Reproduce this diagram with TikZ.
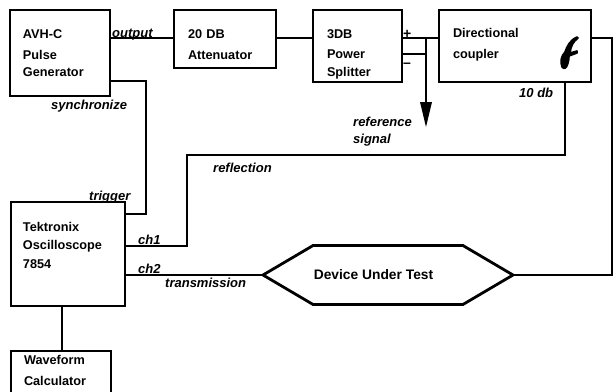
\documentclass[tikz,border=0pt]{standalone}
\usepackage{fontspec}
\setmainfont{Liberation Sans}
\usetikzlibrary{shapes.symbols,arrows.meta,calc}
\newcommand{\lines}[2]{\raisebox{#1}[0pt][0pt]{\begin{tabular}[t]{@{}l@{}}#2\end{tabular}}}
\tikzset{
  blockbox/.style={draw=black,fill=white,line width=2.8pt,inner sep=0pt,outer sep=0pt,text width=#1,align=left,font=\fontsize{12.7}{19}\selectfont\bfseries},
  wire/.style={line width=2.8pt,draw=black,line join=miter},
  tag/.style={anchor=base west,inner sep=0pt,font=\fontsize{13}{14}\selectfont\bfseries\itshape},
  sign/.style={anchor=base west,inner sep=0pt,font=\fontsize{14}{14}\selectfont\bfseries},
}
\begin{document}
\begin{tikzpicture}[x=1pt,y=-1pt]
\useasboundingbox (0,0) rectangle (613,391);
\node[blockbox=74pt,minimum width=100pt,minimum height=86pt] (avh) at (60,53) {\lines{15pt}{AVH-C\\[2pt]Pulse\\[-2pt]Generator}};
\node[blockbox=74pt,minimum width=102pt,minimum height=58pt] (att) at (225,39) {\lines{1pt}{20 DB\\[2pt]Attenuator}};
\node[blockbox=61pt,minimum width=89pt,minimum height=72pt] (spl) at (357.5,46) {\lines{8pt}{3DB\\[1pt]Power\\[-1pt]Splitter}};
\node[blockbox=124pt,minimum width=152pt,minimum height=72pt] (cpl) at (515,46) {\lines{9pt}{Directional\\[2pt]coupler}};
\node[blockbox=90pt,minimum width=114pt,minimum height=104pt] (osc) at (68,254) {\lines{23pt}{Tektronix\\[-1pt]Oscilloscope\\7854}};
\begin{scope}
\clip (0,0) rectangle (613,391);
\node[blockbox=74pt,minimum width=100pt,minimum height=60pt] (wav) at (61,381) {\lines{17pt}{Waveform\\[2pt]Calculator}};
\end{scope}
\node[signal,signal to=west and east,signal pointer angle=61,draw=black,fill=white,line width=2.8pt,inner sep=0pt,outer sep=0pt,minimum width=250pt,minimum height=59pt,font=\fontsize{13.8}{16}\selectfont\bfseries] (dut) at (388,275) {\hspace*{-29pt}\raisebox{-4pt}{Device Under Test}};
% connectors
\draw[wire] (avh.east |- 0,38) -- (att.west |- 0,38);
\draw[wire] (att.east |- 0,38) -- (spl.west |- 0,38);
\draw[wire] (spl.east |- 0,38) -- (cpl.west |- 0,38);
\coordinate (tap) at (426,38);
\coordinate (tip) at (426,127);
\draw[wire] (spl.east |- 0,54) -- (tap |- 0,54);
\draw[wire] (tap) -- (426,104);
\fill[black] (420,102) -- (432,102) -- (tip) -- cycle;
\draw[wire] (avh.east |- 0,81) -- (146,81) -- (146,214) -- (osc.east |- 0,214);
\draw[wire] (osc.east |- 0,246) -- (187,246) -- (187,155) -- (565,155) -- (565,0 |- cpl.south);
\draw[wire] (osc.east |- 0,275) -- (dut.west);
\draw[wire] (cpl.east |- 0,38) -- (612,38) -- (612,275) -- (dut.east);
\draw[wire] (62,0 |- osc.south) -- (62,0 |- wav.north);
% coupler symbol
\filldraw[black,line width=1.6pt,line join=round] (577,37) .. controls (570,40) and (567,46) .. (565,52) .. controls (561,56) and (560,62) .. (562,67) .. controls (564,70) and (567,68) .. (568,63) .. controls (569,60) and (569,58) .. (569,56) -- (577,53) -- (577,51) -- (570,53) .. controls (571,46) and (573,42) .. (578,38) -- cycle;
% labels
\node[tag] (l1) at (112,37) {output};
\node[tag] (l2) at (51,109) {synchronize};
\node[tag] (l3) at (89,200) {trigger};
\node[tag] (l4) at (213,172) {reflection};
\node[tag] (l5) at (138,244) {ch1};
\node[tag] (l6) at (138,273) {ch2};
\node[tag] (l7) at (165,287) {transmission};
\node[tag] (l8) at (353,126) {reference};
\node[tag] (l9) at (353,143) {signal};
\node[tag] (l10) at (519,97) {10 db};
\node[sign] (s1) at (403,38) {+};
\node[sign] (s2) at (403,67) {--};
\end{tikzpicture}
\end{document}
